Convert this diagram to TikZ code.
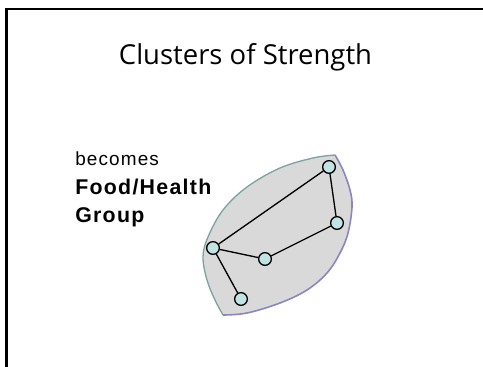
\documentclass[tikz,border=0pt]{standalone}
\usepackage{fontspec}
\setmainfont{Liberation Sans}
\newfontfamily\titlefont{Open Sans}
\newfontfamily\labelfont[LetterSpace=6]{Liberation Sans}
\definecolor{leaffill}{HTML}{D9D9D9}
\definecolor{leafleft}{HTML}{7FA3A3}
\definecolor{leafright}{HTML}{8A86C6}
\definecolor{dotfill}{HTML}{C2E3E3}
\begin{document}
\begin{tikzpicture}[x=0.75pt,y=-0.75pt,
  dot/.style={circle,draw=black,fill=dotfill,line width=1pt,minimum size=9.5pt,inner sep=0pt},
  link/.style={draw=black,line width=1pt},
  lbl/.style={anchor=base west,inner sep=0pt}]
\useasboundingbox (0,0) rectangle (483,367);
\fill[white] (0,0) rectangle (483,367);
% frame
\draw[line width=2.2pt] (6.5,368) -- (6.5,9) -- (484,9);
% title
\node[anchor=base,inner sep=0pt,font=\titlefont\fontsize{20.6}{24}\selectfont] (title) at (245.5,65) {Clusters of Strength};
% labels
\node[lbl,font=\labelfont\fontsize{14.2}{16}\selectfont] (becomes) at (75,166) {becomes};
\node[lbl,font=\labelfont\bfseries\fontsize{16}{18}\selectfont] (food) at (75,195) {Food/Health};
\node[lbl,font=\labelfont\bfseries\fontsize{16}{18}\selectfont] (group) at (75,223) {Group};
% leaf
\fill[leaffill] plot[smooth,tension=0.6] coordinates {(335,155) (313,158) (280,168) (247,187) (223,210) (208,237) (203,257) (207,280) (215,300) (223,315)}
  -- plot[smooth,tension=0.6] coordinates {(223,315) (247,313) (280,303) (307,290) (327,273) (340,253) (348,233) (352,207) (350,190) (343,170) (335,155)} -- cycle;
\draw[leafleft,line width=1pt] plot[smooth,tension=0.6] coordinates {(335,155) (313,158) (280,168) (247,187) (223,210) (208,237) (203,257) (207,280) (215,300) (223,315)};
\draw[leafright,line width=1.2pt] plot[smooth,tension=0.6] coordinates {(223,315) (247,313) (280,303) (307,290) (327,273) (340,253) (348,233) (352,207) (350,190) (343,170) (335,155)};
% nodes
\node[dot] (n1) at (329,167) {};
\node[dot] (n2) at (337,223) {};
\node[dot] (n3) at (265,259) {};
\node[dot] (n4) at (213,248) {};
\node[dot] (n5) at (241,299) {};
\draw[link] (n4) -- (n1);
\draw[link] (n1) -- (n2);
\draw[link] (n2) -- (n3);
\draw[link] (n3) -- (n4);
\draw[link] (n4) -- (n5);
\end{tikzpicture}
\end{document}
